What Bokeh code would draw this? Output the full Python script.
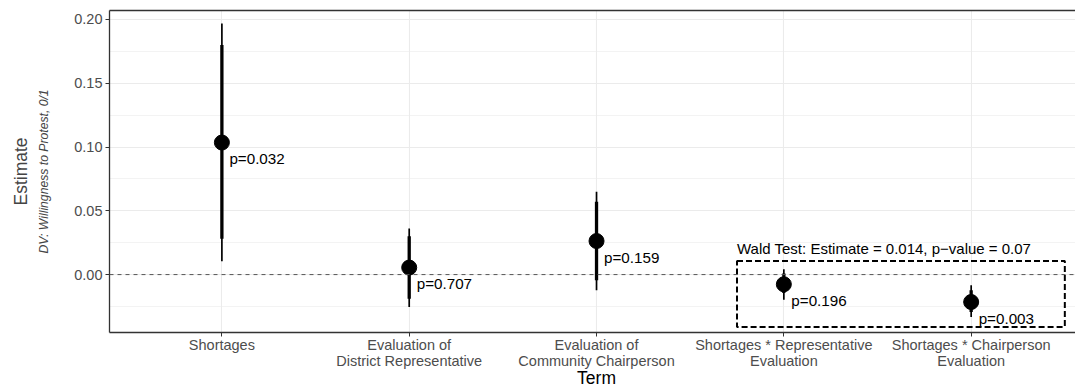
from bokeh.plotting import figure
from bokeh.layouts import column
from bokeh.models import (Range1d, FixedTicker, LinearAxis, Title, Span,
                          NumeralTickFormatter, ColumnDataSource)
from bokeh.core.properties import value
from bokeh.embed import file_html
from bokeh.resources import INLINE

# ---- data ----
terms = ["Shortages",
         "Evaluation of\nDistrict Representative",
         "Evaluation of\nCommunity Chairperson",
         "Shortages * Representative\nEvaluation",
         "Shortages * Chairperson\nEvaluation"]
term_pos = [1, 2, 3, 4, 5]
estimate = [0.1035, 0.0055, 0.0263, -0.0076, -0.0215]
ci95_low = [0.0105, -0.0255, -0.0123, -0.0197, -0.0333]
ci95_high = [0.1968, 0.0362, 0.0649, 0.0042, -0.0084]
ci90_low = [0.0280, -0.0189, -0.0045, -0.0145, -0.0294]
ci90_high = [0.1800, 0.0301, 0.0571, 0.0008, -0.0123]
p_labels = ["p=0.032", "p=0.707", "p=0.159", "p=0.196", "p=0.003"]
y_ticks = [0.0, 0.05, 0.10, 0.15, 0.20]
y_minor = [-0.025, 0.025, 0.075, 0.125, 0.175]
wald_text = "Wald Test: Estimate = 0.014, p\u2212value = 0.07"
x_title = "Term"

FONT = "Liberation Sans"

src = ColumnDataSource(dict(x=term_pos, est=estimate, lo95=ci95_low, hi95=ci95_high,
                            lo90=ci90_low, hi90=ci90_high, lab=p_labels))

p = figure(width=1075, height=372, output_backend="svg", toolbar_location=None,
           x_range=Range1d(0.4, 5.557), y_range=Range1d(-0.0454, 0.2070),
           min_border_left=109, min_border_right=0, min_border_top=10,
           min_border_bottom=40, x_axis_location="below")
p.outline_line_color = None
p.background_fill_color = "white"
p.border_fill_color = "white"

# axes
xa = p.xaxis[0]
xa.ticker = FixedTicker(ticks=term_pos)
xa.major_label_overrides = {t: lab for t, lab in zip(term_pos, terms)}
ya = p.yaxis[0]
ya.ticker = FixedTicker(ticks=y_ticks, minor_ticks=y_minor)
ya.formatter = NumeralTickFormatter(format="0.00")
ya.axis_label = "DV: Willingness to Protest, 0/1"

for ax in (xa, ya):
    ax.axis_line_color = "#333333"
    ax.axis_line_width = 1.3
    ax.major_tick_line_color = "#333333"
    ax.major_tick_out = 4
    ax.major_tick_in = 0
    ax.minor_tick_out = 0
    ax.minor_tick_in = 0
    ax.major_label_text_font = FONT
    ax.major_label_text_font_size = "14.5px"
    ax.major_label_text_color = "#4D4D4D"
    ax.axis_label_text_font = FONT

xa.major_label_text_line_height = 1.0
xa.major_label_standoff = 0
ya.major_label_standoff = 3
ya.axis_label_text_font_size = "12.2px"
ya.axis_label_text_font_style = "italic"
ya.axis_label_standoff = 20

top_axis = LinearAxis(axis_line_color="#333333", axis_line_width=1.3,
                      major_tick_line_color=None, minor_tick_line_color=None,
                      major_tick_out=0, major_tick_in=0, major_label_standoff=0,
                      major_label_text_font_size="0px", ticker=FixedTicker(ticks=[]))
p.add_layout(top_axis, "above")

p.add_layout(Title(text="Estimate", text_font=FONT, text_font_size="17.5px",
                   text_font_style="normal", align="center", standoff=7), "left")

# grids
p.xgrid.grid_line_color = "#EBEBEB"
p.xgrid.grid_line_width = 1.1
p.ygrid.grid_line_color = "#EBEBEB"
p.ygrid.grid_line_width = 1.1
p.ygrid.minor_grid_line_color = "#EBEBEB"
p.ygrid.minor_grid_line_width = 0.6

# zero line
p.add_layout(Span(location=0, dimension="width", line_color="#555555",
                  line_width=1.0, line_dash="4 4"))

# wald box
p.quad(left=[3.75], right=[5.5], bottom=[-0.041], top=[0.0107],
       fill_color=None, line_color="black", line_width=2, line_dash="6 3")
p.text(x=[3.75], y=[0.0204], text=[wald_text], text_font=value(FONT),
       text_font_size="15px", text_align="left", text_baseline="alphabetic",
       text_color="black")

# estimates
p.segment(x0="x", y0="lo95", x1="x", y1="hi95", source=src,
          line_color="black", line_width=1.7)
p.segment(x0="x", y0="lo90", x1="x", y1="hi90", source=src,
          line_color="black", line_width=3.3)
p.scatter(x="x", y="est", source=src, size=15, fill_color="black", line_color="black")
p.text(x="x", y="est", text="lab", source=src, x_offset=7.5, y_offset=16,
       text_font=value(FONT), text_font_size="15.2px", text_align="left",
       text_baseline="alphabetic", text_color="black")

# x axis title strip (same horizontal scale as the main plot), overlapping the
# blank bottom of the main figure
t = figure(width=1075, height=25, output_backend="svg", toolbar_location=None,
           x_range=p.x_range, y_range=Range1d(0, 1),
           min_border_left=109, min_border_right=0, min_border_top=0,
           min_border_bottom=0)
t.margin = (-9, 0, 0, 0)
t.axis.visible = False
t.grid.visible = False
t.outline_line_color = None
t.background_fill_alpha = 0
t.border_fill_alpha = 0
t.text(x=[3], y=[0.42], text=[x_title], text_font=value(FONT),
       text_font_size="17.5px", text_align="center", text_baseline="middle",
       text_color="black")

layout = column(p, t, spacing=0)
open("out.html", "w").write(file_html(layout, INLINE))
